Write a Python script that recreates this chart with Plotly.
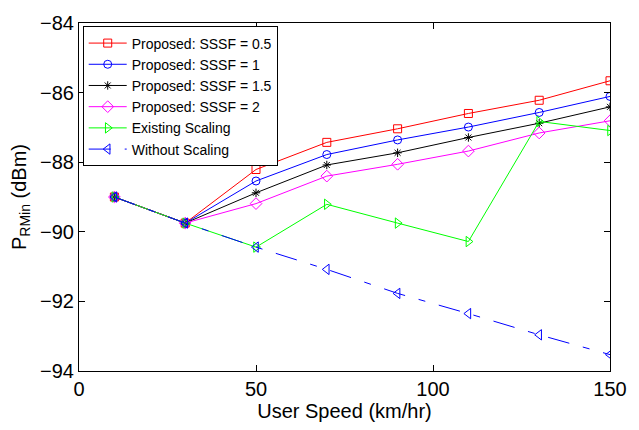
import plotly.graph_objects as go

# User speed (km/hr)
speed = [10, 30, 50, 70, 90, 110, 130, 150]

# Minimum received power P_RMin (dBm) for each scheme
sssf_05 = [-89.0, -89.75, -88.21, -87.43, -87.04, -86.60, -86.22, -85.66]
sssf_1 = [-89.0, -89.75, -88.54, -87.78, -87.36, -86.99, -86.57, -86.11]
sssf_15 = [-89.0, -89.75, -88.88, -88.08, -87.73, -87.29, -86.88, -86.41]
sssf_2 = [-89.0, -89.75, -89.19, -88.40, -88.06, -87.68, -87.16, -86.81]
existing = [-89.0, -89.75, -90.44, -89.21, -89.75, -90.28, -86.83, -87.09]
no_scaling = [-89.0, -89.75, -90.44, -91.08, -91.77, -92.35, -92.96, -93.53]

x_ticks = [0, 50, 100, 150]
y_ticks = [-94, -92, -90, -88, -86, -84]

series = [
    ("Proposed: SSSF = 0.5", sssf_05, "#ff0000", "square-open", 8, "solid"),
    ("Proposed: SSSF = 1", sssf_1, "#0000ff", "circle-open", 8, "solid"),
    ("Proposed: SSSF = 1.5", sssf_15, "#000000", "asterisk-open", 7, "solid"),
    ("Proposed: SSSF = 2", sssf_2, "#ff00ff", "diamond-open", 9, "solid"),
    ("Existing Scaling", existing, "#00ff00", "triangle-right-open", 9, "solid"),
    ("Without Scaling", no_scaling, "#0000ff", "triangle-left-open", 9,
     "22px,14px,7px,14px"),
]

FONT = "Liberation Sans, Arial, Helvetica, sans-serif"

fig = go.Figure()
for name, vals, color, symbol, size, dash in series:
    fig.add_trace(go.Scatter(
        x=speed, y=vals, name=name, mode="lines+markers",
        line=dict(color=color, width=1, dash=dash),
        marker=dict(symbol=symbol, size=size, color=color,
                    line=dict(color=color, width=1)),
    ))

axis_common = dict(
    showline=True, linecolor="black", linewidth=1, mirror="ticks",
    ticks="inside", ticklen=6, tickcolor="black", tickwidth=1,
    showgrid=False, zeroline=False,
    tickfont=dict(family=FONT, size=20, color="black"),
)

fig.update_layout(
    width=639, height=430,
    margin=dict(l=79, r=17, t=18, b=49),
    paper_bgcolor="white", plot_bgcolor="white",
    font=dict(family=FONT, color="black"),
    showlegend=True,
    legend=dict(
        x=0.007, y=0.99, xanchor="left", yanchor="top",
        bgcolor="white", bordercolor="black", borderwidth=1,
        font=dict(family=FONT, size=14, color="black"),
        tracegroupgap=0, itemwidth=38,
    ),
    xaxis=dict(
        range=[0, 150], tickvals=x_ticks,
        title=dict(text="User Speed (km/hr)", standoff=4,
                   font=dict(family=FONT, size=20)),
        **axis_common,
    ),
    yaxis=dict(
        range=[-94, -84], tickvals=y_ticks,
        title=dict(text="P<sub>RMin</sub> (dBm)", standoff=8,
                   font=dict(family=FONT, size=20)),
        **axis_common,
    ),
)

fig.write_html("out.html")
